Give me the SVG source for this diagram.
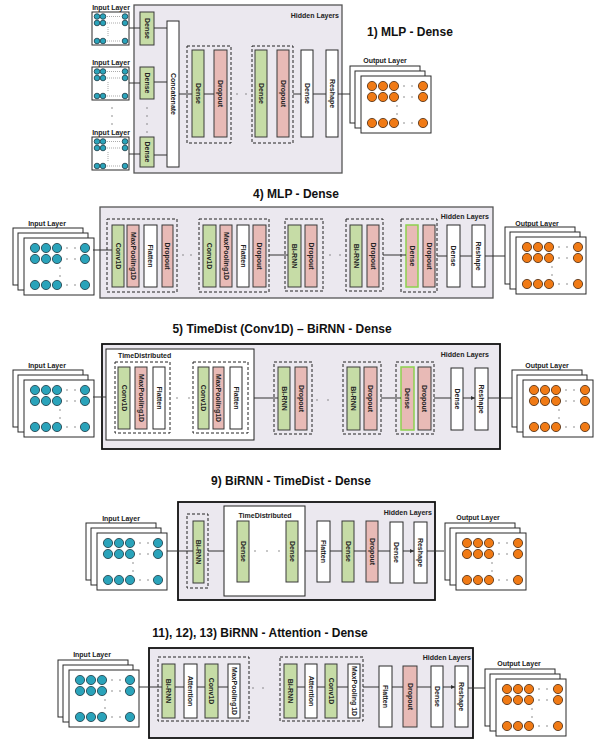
<svg xmlns="http://www.w3.org/2000/svg" xmlns:xlink="http://www.w3.org/1999/xlink" width="596" height="740" viewBox="0 0 596 740">
<style>
.hid{fill:#ebe8ef;stroke:#555;stroke-width:1.3}
.hidk{fill:#ebe8ef;stroke:#111;stroke-width:1.8}
.g{fill:#c6dca6;stroke:#3a3a3a;stroke-width:1}
.p{fill:#e8bab6;stroke:#3a3a3a;stroke-width:1}
.pg{fill:#e8bab6;stroke:#8dd14f;stroke-width:1.5}
.w{fill:#fff;stroke:#2a2a2a;stroke-width:1}
.td{fill:#fff;stroke:#222;stroke-width:1}
.dash{fill:none;stroke:#222;stroke-width:1;stroke-dasharray:3 2}
.ln{stroke:#333;stroke-width:1;fill:none}
.lna{stroke:#333;stroke-width:1;fill:none;marker-end:url(#ar)}
.lb{font-family:"Liberation Sans",Arial,sans-serif;font-weight:bold;font-size:7px;fill:#222}
.vt{font-family:"Liberation Sans",Arial,sans-serif;font-weight:bold;font-size:7px;fill:#222;text-anchor:middle;dominant-baseline:central}
.title{font-family:"Liberation Sans",Arial,sans-serif;font-weight:bold;font-size:12px;fill:#111}
.ci{fill:#2aa3ba;stroke:#1d3a44;stroke-width:0.8}
.co{fill:#f07a15;stroke:#4a2a10;stroke-width:0.8}
.dt{fill:#666}
.dl{stroke:#888;stroke-width:0.7;stroke-dasharray:1 1;fill:none}
</style>
<defs>
<marker id="ar" viewBox="0 0 6 6" refX="6" refY="3" markerWidth="4" markerHeight="4" orient="auto"><path d="M0,0 L6,3 L0,6z" fill="#333"/></marker>
<g id="inStack">
<rect x="-11" y="-10" width="70" height="57" class="w"/>
<rect x="-6" y="-5" width="70" height="57" class="w"/>
<rect x="0" y="0" width="70" height="57" class="w"/>
<circle cx="11" cy="10" r="4.6" class="ci"/><circle cx="22" cy="10" r="4.6" class="ci"/><circle cx="33" cy="10" r="4.6" class="ci"/><circle cx="61" cy="10" r="4.6" class="ci"/>
<circle cx="11" cy="21" r="4.6" class="ci"/><circle cx="22" cy="21" r="4.6" class="ci"/><circle cx="33" cy="21" r="4.6" class="ci"/><circle cx="61" cy="21" r="4.6" class="ci"/>
<circle cx="11" cy="47" r="4.6" class="ci"/><circle cx="22" cy="47" r="4.6" class="ci"/><circle cx="33" cy="47" r="4.6" class="ci"/><circle cx="61" cy="47" r="4.6" class="ci"/>
<circle cx="43" cy="10" r="0.7" class="dt"/><circle cx="51" cy="10" r="0.7" class="dt"/>
<circle cx="43" cy="21" r="0.7" class="dt"/><circle cx="51" cy="21" r="0.7" class="dt"/>
<circle cx="43" cy="47" r="0.7" class="dt"/><circle cx="51" cy="47" r="0.7" class="dt"/>
<circle cx="36" cy="30" r="0.7" class="dt"/><circle cx="36" cy="38" r="0.7" class="dt"/>
</g>
<g id="outStack">
<rect x="-11" y="-10" width="70" height="57" class="w"/>
<rect x="-6" y="-5" width="70" height="57" class="w"/>
<rect x="0" y="0" width="70" height="57" class="w"/>
<circle cx="11" cy="10" r="4.6" class="co"/><circle cx="22" cy="10" r="4.6" class="co"/><circle cx="33" cy="10" r="4.6" class="co"/><circle cx="62" cy="10" r="4.6" class="co"/>
<circle cx="11" cy="21" r="4.6" class="co"/><circle cx="22" cy="21" r="4.6" class="co"/><circle cx="33" cy="21" r="4.6" class="co"/><circle cx="62" cy="21" r="4.6" class="co"/>
<circle cx="11" cy="47" r="4.6" class="co"/><circle cx="22" cy="47" r="4.6" class="co"/><circle cx="33" cy="47" r="4.6" class="co"/><circle cx="62" cy="47" r="4.6" class="co"/>
<circle cx="43" cy="10" r="0.7" class="dt"/><circle cx="51" cy="10" r="0.7" class="dt"/>
<circle cx="43" cy="21" r="0.7" class="dt"/><circle cx="51" cy="21" r="0.7" class="dt"/>
<circle cx="43" cy="47" r="0.7" class="dt"/><circle cx="51" cy="47" r="0.7" class="dt"/>
<circle cx="36" cy="30" r="0.7" class="dt"/><circle cx="36" cy="38" r="0.7" class="dt"/>
</g>
<g id="smallIn">
<rect x="0" y="0" width="37" height="33" class="w" stroke-width="1.3"/>
<circle cx="5" cy="4.5" r="2.8" class="ci"/><circle cx="11" cy="4.5" r="2.8" class="ci"/><circle cx="33" cy="4.5" r="2.8" class="ci"/>
<circle cx="5" cy="11" r="2.8" class="ci"/><circle cx="11" cy="11" r="2.8" class="ci"/><circle cx="33" cy="11" r="2.8" class="ci"/>
<circle cx="5" cy="29" r="2.8" class="ci"/><circle cx="11" cy="29" r="2.8" class="ci"/><circle cx="33" cy="29" r="2.8" class="ci"/>
<path d="M15,4.5H29M15,11H29M15,29H29M16,15V25" class="dl"/>
</g>
</defs>

<!-- ===== Section 1 ===== -->
<text class="title" x="367" y="36">1) MLP - Dense</text>
<g id="s1-hidden"><rect x="134" y="5" width="208" height="168" class="hid"/><text class="lb" x="339" y="17.5" text-anchor="end">Hidden Layers</text></g>
<g id="s1-in1"><text class="lb" x="111" y="10" text-anchor="middle">Input Layer</text><use href="#smallIn" x="92" y="12"/></g>
<g id="s1-in2"><text class="lb" x="111" y="65" text-anchor="middle">Input Layer</text><use href="#smallIn" x="92" y="67"/></g>
<g id="s1-in3"><text class="lb" x="111" y="135" text-anchor="middle">Input Layer</text><use href="#smallIn" x="92" y="137"/></g>
<g id="s1-vdots" class="dt"><circle cx="112" cy="108" r="0.7"/><circle cx="112" cy="116" r="0.7"/><circle cx="112" cy="124" r="0.7"/><circle cx="147" cy="108" r="0.7"/><circle cx="147" cy="116" r="0.7"/><circle cx="147" cy="124" r="0.7"/><circle cx="147" cy="132" r="0.7"/></g>
<g id="s1-dense1"><rect x="140" y="12" width="14" height="33" class="g"/><text class="vt" transform="translate(147,28.5) rotate(90)">Dense</text></g>
<g id="s1-dense2"><rect x="140" y="67" width="14" height="32" class="g"/><text class="vt" transform="translate(147,83) rotate(90)">Dense</text></g>
<g id="s1-dense3"><rect x="140" y="137" width="14" height="30" class="g"/><text class="vt" transform="translate(147,152) rotate(90)">Dense</text></g>
<g id="s1-concat"><rect x="167" y="21" width="12" height="146" class="w"/><text class="vt" transform="translate(173,94) rotate(90)">Concatenate</text></g>
<g id="s1-drop1"><rect x="187" y="46" width="44" height="97" class="dash"/><rect x="192" y="50" width="12" height="87" class="g"/><text class="vt" transform="translate(198,93.5) rotate(90)">Dense</text><rect x="214" y="50" width="13" height="87" class="p"/><text class="vt" transform="translate(220.5,93.5) rotate(90)">Dropout</text></g>
<g id="s1-dots" class="dt"><circle cx="237" cy="94" r="0.7"/><circle cx="246" cy="94" r="0.7"/></g>
<g id="s1-drop2"><rect x="252" y="46" width="41" height="97" class="dash"/><rect x="255" y="50" width="12" height="87" class="g"/><text class="vt" transform="translate(261,93.5) rotate(90)">Dense</text><rect x="277" y="50" width="12" height="87" class="p"/><text class="vt" transform="translate(283,93.5) rotate(90)">Dropout</text></g>
<g id="s1-dense"><rect x="301" y="50" width="12" height="87" class="w"/><text class="vt" transform="translate(307,93.5) rotate(90)">Dense</text></g>
<g id="s1-reshape"><rect x="326" y="50" width="12" height="87" class="w"/><text class="vt" transform="translate(332,93.5) rotate(90)">Reshape</text></g>
<g id="s1-out"><text class="lb" x="385" y="63" text-anchor="middle">Output Layer</text><use href="#outStack" x="361" y="76"/></g>
<g id="s1-conn">
<path class="ln" d="M129,28H140M129,83H140M129,154H140M154,28H167M154,82H167M154,155H167M179,94H192M204,94H214M293,94H301M313,94H326M338,94H350"/>
</g>

<!-- ===== Section 4 ===== -->
<text class="title" x="296" y="198" text-anchor="middle">4) MLP - Dense</text>
<g id="s4-hidden"><rect x="100" y="207" width="393" height="91" class="hid" stroke-width="1"/><text class="lb" x="489" y="219" text-anchor="end">Hidden Layers</text></g>
<g id="s4-in"><text class="lb" x="47" y="226" text-anchor="middle">Input Layer</text><use href="#inStack" x="24" y="238"/></g>
<g id="s4-A"><rect x="107" y="219" width="70" height="73" class="dash"/>
<rect x="112" y="225" width="12" height="62" class="g"/><text class="vt" transform="translate(118,256) rotate(90)">Conv1D</text>
<rect x="127" y="225" width="12" height="62" class="p"/><text class="vt" transform="translate(133,256) rotate(90)">MaxPooling1D</text>
<rect x="144" y="225" width="13" height="62" class="w"/><text class="vt" transform="translate(150.5,256) rotate(90)">Flatten</text>
<rect x="162" y="225" width="11" height="62" class="p"/><text class="vt" transform="translate(167.5,256) rotate(90)">Dropout</text></g>
<g id="s4-dots1" class="dt"><circle cx="183" cy="255" r="0.7"/><circle cx="191" cy="255" r="0.7"/></g>
<g id="s4-B"><rect x="199" y="219" width="70" height="73" class="dash"/>
<rect x="203" y="225" width="13" height="62" class="g"/><text class="vt" transform="translate(209.5,256) rotate(90)">Conv1D</text>
<rect x="220" y="225" width="12" height="62" class="p"/><text class="vt" transform="translate(226,256) rotate(90)">MaxPooling1D</text>
<rect x="237" y="225" width="12" height="62" class="w"/><text class="vt" transform="translate(243,256) rotate(90)">Flatten</text>
<rect x="253" y="225" width="13" height="62" class="p"/><text class="vt" transform="translate(259.5,256) rotate(90)">Dropout</text></g>
<g id="s4-C"><rect x="285" y="219" width="38" height="72" class="dash"/>
<rect x="288" y="225" width="13" height="62" class="g"/><text class="vt" transform="translate(294.5,256) rotate(90)">Bi-RNN</text>
<rect x="305" y="225" width="12" height="62" class="p"/><text class="vt" transform="translate(311,256) rotate(90)">Dropout</text></g>
<g id="s4-dots2" class="dt"><circle cx="330" cy="255" r="0.7"/><circle cx="340" cy="255" r="0.7"/></g>
<g id="s4-D"><rect x="346" y="219" width="37" height="72" class="dash"/>
<rect x="350" y="225" width="12" height="62" class="g"/><text class="vt" transform="translate(356,256) rotate(90)">Bi-RNN</text>
<rect x="367" y="225" width="12" height="62" class="p"/><text class="vt" transform="translate(373,256) rotate(90)">Dropout</text></g>
<g id="s4-E"><rect x="401" y="219" width="36" height="73" class="dash"/>
<rect x="406" y="225" width="12" height="62" class="pg"/><text class="vt" transform="translate(412,256) rotate(90)">Dense</text>
<rect x="423" y="225" width="12" height="62" class="p" stroke="#5a4040"/><text class="vt" transform="translate(429,256) rotate(90)">Dropout</text></g>
<g id="s4-dense"><rect x="447" y="225" width="13" height="62" class="w"/><text class="vt" transform="translate(453.5,256) rotate(90)">Dense</text></g>
<g id="s4-reshape"><rect x="472" y="225" width="13" height="62" class="w"/><text class="vt" transform="translate(478.5,256) rotate(90)">Reshape</text></g>
<g id="s4-out"><text class="lb" x="537" y="226" text-anchor="middle">Output Layer</text><use href="#outStack" x="516" y="237"/></g>
<g id="s4-conn"><path class="ln" d="M93,250H112M269,255H288M383,255H406M437,256H447M460,256H472M485,256H505"/></g>

<!-- ===== Section 5 ===== -->
<text class="title" x="282" y="333" text-anchor="middle">5) TimeDist (Conv1D) – BiRNN - Dense</text>
<g id="s5-hidden"><rect x="102" y="344" width="398" height="105" class="hidk"/><text class="lb" x="489" y="357" text-anchor="end">Hidden Layers</text></g>
<g id="s5-in"><text class="lb" x="47" y="368" text-anchor="middle">Input Layer</text><use href="#inStack" x="24" y="380"/></g>
<g id="s5-td"><rect x="106" y="349" width="148" height="91" class="td"/><text class="lb" x="118" y="358">TimeDistributed</text>
<rect x="115" y="362" width="55" height="71" class="dash"/>
<rect x="118" y="367" width="12" height="62" class="g"/><text class="vt" transform="translate(124,398) rotate(90)">Conv1D</text>
<rect x="135" y="367" width="12" height="62" class="p"/><text class="vt" transform="translate(141,398) rotate(90)">MaxPooling1D</text>
<rect x="153" y="367" width="12" height="62" class="w"/><text class="vt" transform="translate(159,398) rotate(90)">Flatten</text>
<circle cx="177" cy="398" r="0.7" class="dt"/><circle cx="189" cy="398" r="0.7" class="dt"/>
<rect x="193" y="362" width="55" height="71" class="dash"/>
<rect x="198" y="367" width="11" height="62" class="g"/><text class="vt" transform="translate(203.5,398) rotate(90)">Conv1D</text>
<rect x="213" y="367" width="11" height="62" class="p"/><text class="vt" transform="translate(218.5,398) rotate(90)">MaxPooling1D</text>
<rect x="230" y="367" width="12" height="62" class="w"/><text class="vt" transform="translate(236,398) rotate(90)">Flatten</text></g>
<g id="s5-C"><rect x="274" y="362" width="38" height="72" class="dash"/>
<rect x="278" y="367" width="12" height="63" class="g"/><text class="vt" transform="translate(284,398.5) rotate(90)">Bi-RNN</text>
<rect x="295" y="367" width="12" height="63" class="p"/><text class="vt" transform="translate(301,398.5) rotate(90)">Dropout</text></g>
<g id="s5-dots" class="dt"><circle cx="317" cy="400" r="0.7"/><circle cx="328" cy="400" r="0.7"/></g>
<g id="s5-D"><rect x="343" y="362" width="38" height="72" class="dash"/>
<rect x="347" y="367" width="13" height="63" class="g"/><text class="vt" transform="translate(353.5,398.5) rotate(90)">Bi-RNN</text>
<rect x="364" y="367" width="13" height="63" class="p"/><text class="vt" transform="translate(370.5,398.5) rotate(90)">Dropout</text></g>
<g id="s5-E"><rect x="396" y="362" width="38" height="72" class="dash"/>
<rect x="401" y="367" width="13" height="63" class="pg"/><text class="vt" transform="translate(407.5,398.5) rotate(90)">Dense</text>
<rect x="418" y="367" width="13" height="63" class="p" stroke="#5a4040"/><text class="vt" transform="translate(424.5,398.5) rotate(90)">Dropout</text></g>
<g id="s5-dense"><rect x="451" y="368" width="12" height="62" class="w"/><text class="vt" transform="translate(457,399) rotate(90)">Dense</text></g>
<g id="s5-reshape"><rect x="475" y="368" width="13" height="62" class="w"/><text class="vt" transform="translate(481.5,399) rotate(90)">Reshape</text></g>
<g id="s5-out"><text class="lb" x="547" y="368" text-anchor="middle">Output Layer</text><use href="#outStack" x="523" y="380"/></g>
<g id="s5-conn"><path class="ln" d="M93,397H106M254,398H278M381,398H401M488,398H512"/><path class="lna" d="M434,398H451M463,398H475"/></g>

<!-- ===== Section 9 ===== -->
<text class="title" x="291" y="485" text-anchor="middle">9) BiRNN - TimeDist - Dense</text>
<g id="s9-hidden"><rect x="178" y="502" width="257" height="98" class="hidk"/><text class="lb" x="432" y="515" text-anchor="end">Hidden Layers</text></g>
<g id="s9-in"><text class="lb" x="121" y="521" text-anchor="middle">Input Layer</text><use href="#inStack" x="97" y="533"/></g>
<g id="s9-birnn"><rect x="187" y="514" width="21" height="74" class="dash"/><rect x="193" y="521" width="11" height="62" class="g"/><text class="vt" transform="translate(198.5,552) rotate(90)">Bi-RNN</text></g>
<g id="s9-td"><rect x="224" y="506" width="81" height="90" class="td"/><text class="lb" x="265" y="518" text-anchor="middle">TimeDistributed</text>
<rect x="237" y="521" width="12" height="61" class="g"/><text class="vt" transform="translate(243,551.5) rotate(90)">Dense</text>
<circle cx="255" cy="551" r="0.7" class="dt"/><circle cx="267" cy="551" r="0.7" class="dt"/><circle cx="279" cy="551" r="0.7" class="dt"/>
<rect x="286" y="521" width="12" height="61" class="g"/><text class="vt" transform="translate(292,551.5) rotate(90)">Dense</text></g>
<g id="s9-flatten"><rect x="317" y="521" width="13" height="61" class="w"/><text class="vt" transform="translate(323.5,551.5) rotate(90)">Flatten</text></g>
<g id="s9-dense1"><rect x="342" y="521" width="12" height="61" class="g"/><text class="vt" transform="translate(348,551.5) rotate(90)">Dense</text></g>
<g id="s9-dropout"><rect x="366" y="521" width="12" height="61" class="p"/><text class="vt" transform="translate(372,551.5) rotate(90)">Dropout</text></g>
<g id="s9-dense2"><rect x="390" y="522" width="13" height="61" class="w"/><text class="vt" transform="translate(396.5,552.5) rotate(90)">Dense</text></g>
<g id="s9-reshape"><rect x="414" y="522" width="13" height="61" class="w"/><text class="vt" transform="translate(420.5,552.5) rotate(90)">Reshape</text></g>
<g id="s9-out"><text class="lb" x="478" y="520" text-anchor="middle">Output Layer</text><use href="#outStack" x="456" y="533"/></g>
<g id="s9-conn"><path class="ln" d="M167,551H193M427,551H444"/><path class="lna" d="M208,551H224M305,551H317M330,551H342M354,551H366M378,551H390M403,551H414"/></g>

<!-- ===== Section 13 ===== -->
<text class="title" x="260" y="637" text-anchor="middle">11), 12), 13) BiRNN - Attention - Dense</text>
<g id="s13-hidden"><rect x="149" y="648" width="324" height="90" class="hidk"/><text class="lb" x="471" y="660" text-anchor="end">Hidden Layers</text></g>
<g id="s13-in"><text class="lb" x="92" y="657" text-anchor="middle">Input Layer</text><use href="#inStack" x="69" y="670"/></g>
<g id="s13-A"><rect x="158" y="657" width="91" height="64" class="dash"/>
<rect x="162" y="664" width="13" height="54" class="g"/><text class="vt" transform="translate(168.5,691) rotate(90)">Bi-RNN</text>
<rect x="184" y="664" width="13" height="54" class="w"/><text class="vt" transform="translate(190.5,691) rotate(90)">Attention</text>
<rect x="205" y="664" width="13" height="54" class="g"/><text class="vt" transform="translate(211.5,691) rotate(90)">Conv1D</text>
<rect x="228" y="664" width="12" height="54" class="w"/><text class="vt" transform="translate(234,691) rotate(90)">MaxPooling1D</text></g>
<g id="s13-dots" class="dt"><circle cx="253" cy="688" r="0.7"/><circle cx="263" cy="688" r="0.7"/></g>
<g id="s13-B"><rect x="280" y="657" width="83" height="64" class="dash"/>
<rect x="284" y="664" width="13" height="54" class="g"/><text class="vt" transform="translate(290.5,691) rotate(90)">Bi-RNN</text>
<rect x="305" y="664" width="12" height="54" class="w"/><text class="vt" transform="translate(311,691) rotate(90)">Attention</text>
<rect x="325" y="664" width="12" height="54" class="g"/><text class="vt" transform="translate(331,691) rotate(90)">Conv1D</text>
<rect x="348" y="664" width="12" height="54" class="w"/><text class="vt" transform="translate(354,691) rotate(90)">MaxPooling 1D</text></g>
<g id="s13-flatten"><rect x="379" y="666" width="13" height="61" class="w"/><text class="vt" transform="translate(385.5,696.5) rotate(90)">Flatten</text></g>
<g id="s13-dropout"><rect x="403" y="666" width="14" height="61" class="p"/><text class="vt" transform="translate(410,696.5) rotate(90)">Dropout</text></g>
<g id="s13-dense"><rect x="431" y="666" width="12" height="61" class="w"/><text class="vt" transform="translate(437,696.5) rotate(90)">Dense</text></g>
<g id="s13-reshape"><rect x="455" y="666" width="13" height="61" class="w"/><text class="vt" transform="translate(461.5,696.5) rotate(90)">Reshape</text></g>
<g id="s13-out"><text class="lb" x="519" y="666" text-anchor="middle">Output Layer</text><use href="#outStack" x="496" y="679"/></g>
<g id="s13-conn"><path class="ln" d="M139,687H162M468,688H485"/><path class="lna" d="M175,687H184M197,687H205M218,687H228M297,687H305M317,687H325M337,687H348M363,687H379M392,687H403M417,687H431M443,687H455"/></g>
</svg>
